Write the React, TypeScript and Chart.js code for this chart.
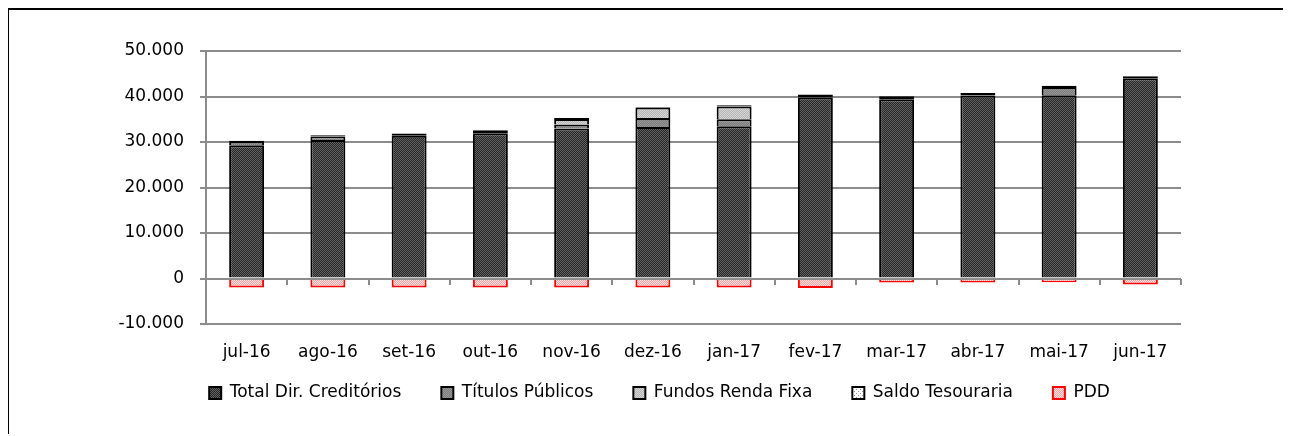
import React, { useEffect, useRef } from "react";
import { Chart, registerables } from "chart.js";

Chart.register(...registerables);

const categories = ["jul-16", "ago-16", "set-16", "out-16", "nov-16", "dez-16", "jan-17", "fev-17", "mar-17", "abr-17", "mai-17", "jun-17"];
const totalDirCreditorios = [29300, 30450, 31400, 31920, 32950, 33300, 33460, 39760, 39390, 40200, 40270, 44000];
const titulosPublicos = [700, 750, null, null, 880, 1980, 1540, null, null, null, 1820, null];
const fundosRendaFixa = [null, null, null, null, 1230, 2280, 2790, null, null, null, null, null];
const saldoTesouraria = [250, 300, 450, 650, 220, 150, 290, 660, 660, 570, 300, 440];
const pdd = [-2000, -2000, -2000, -2000, -2000, -2000, -2000, -2100, -900, -900, -800, -1300];
const yMin = -10000;
const yMax = 50000;
const yStep = 10000;

const FONT = { family: "'DejaVu Sans', sans-serif", size: 17 };
const GRID = "#8c8c8c";
const LEGEND_PAD = 40;

function makePattern(cells: string[][]) {
  const c = document.createElement("canvas");
  c.width = cells[0].length;
  c.height = cells.length;
  const ctx = c.getContext("2d")!;
  cells.forEach((row, y) =>
    row.forEach((col, x) => {
      ctx.fillStyle = col;
      ctx.fillRect(x, y, 1, 1);
    })
  );
  return ctx.createPattern(c, "repeat")!;
}

function fmt(v: number) {
  if (v === 0) return "0";
  const s = Math.abs(v).toString().replace(/\B(?=(\d{3})+(?!\d))/g, ".");
  return (v < 0 ? "-" : "") + s;
}

const zeroAxisPlugin = {
  id: "zeroAxis",
  beforeDraw(chart: any) {
    const lg = chart.legend;
    if (lg) {
      const h = lg.height;
      lg.top = 334.5;
      lg.bottom = 334.5 + h;
      lg.left = 129;
      lg.right = 1172;
      lg.width = lg.right - lg.left;
      if (lg.adjustHitBoxes) lg.adjustHitBoxes();
    }
  },
  afterDatasetsDraw(chart: any) {
    const { ctx, chartArea, scales } = chart;
    const y0 = Math.round(scales.y.getPixelForValue(0));
    const xs = scales.x;
    ctx.save();
    ctx.strokeStyle = GRID;
    ctx.lineWidth = 2;
    ctx.beginPath();
    ctx.moveTo(chartArea.left, y0);
    ctx.lineTo(chartArea.right, y0);
    for (let i = 1; i <= categories.length; i++) {
      const bx = Math.round(xs.getPixelForValue(i - 0.5));
      ctx.moveTo(bx, y0);
      ctx.lineTo(bx, y0 + 6);
    }
    ctx.stroke();
    ctx.restore();
  },
};

export default function App() {
  const ref = useRef<HTMLCanvasElement>(null);
  useEffect(() => {
    document.documentElement.style.overflow = "hidden";
    document.body.style.overflow = "hidden";
    const totalPat = makePattern([
      ["#262626", "#626262"],
      ["#626262", "#262626"],
    ]);
    const titPat = makePattern([
      ["#7c7c7c", "#969696"],
      ["#969696", "#7c7c7c"],
    ]);
    const fundPat = makePattern([
      ["#b4b4b4", "#d6d6d6"],
      ["#d6d6d6", "#b4b4b4"],
    ]);
    const saldoPat = makePattern([
      ["#ffffff", "#ffffff", "#ffffff", "#ffffff"],
      ["#ffffff", "#8a8a8a", "#ffffff", "#ffffff"],
      ["#ffffff", "#ffffff", "#ffffff", "#ffffff"],
      ["#ffffff", "#ffffff", "#ffffff", "#8a8a8a"],
    ]);
    const pddPat = makePattern([
      ["#ff9c9c", "#ffe6e6"],
      ["#ffe6e6", "#ff9c9c"],
    ]);
    const common = { borderWidth: 2, barPercentage: 0.43, categoryPercentage: 1 };
    const chart = new Chart(ref.current!, {
      type: "bar",
      data: {
        labels: categories,
        datasets: [
          { label: "Total Dir. Creditórios", data: totalDirCreditorios, backgroundColor: totalPat, borderColor: "#000", ...common },
          { label: "Títulos Públicos", data: titulosPublicos as any, backgroundColor: titPat, borderColor: "#000", ...common },
          { label: "Fundos Renda Fixa", data: fundosRendaFixa as any, backgroundColor: fundPat, borderColor: "#000", ...common },
          { label: "Saldo Tesouraria", data: saldoTesouraria, backgroundColor: saldoPat, borderColor: "#000", borderSkipped: false, ...common },
          { label: "PDD", data: pdd, backgroundColor: pddPat, borderColor: "#ff0000", ...common },
        ],
      },
      options: {
        responsive: false,
        animation: false,
        devicePixelRatio: 1,
        layout: { padding: { left: 97, right: 109, top: 41, bottom: 0 } },
        plugins: {
          tooltip: { enabled: false },
          legend: {
            position: "bottom",
            labels: { boxWidth: 12, boxHeight: 12, padding: LEGEND_PAD, color: "#000", font: FONT },
          },
        },
        scales: {
          x: {
            stacked: true,
            grid: { display: false, drawTicks: false },
            border: { display: false },
            ticks: { padding: 18, color: "#000", font: FONT, maxRotation: 0, autoSkip: false },
            afterFit: (s: any) => {
              s.height = 40;
            },
          },
          y: {
            stacked: true,
            min: yMin,
            max: yMax,
            ticks: { stepSize: yStep, padding: 16, color: "#000", font: FONT, callback: (v: any) => fmt(Number(v)) },
            grid: { color: GRID, lineWidth: 2, tickLength: 6, tickColor: GRID, drawTicks: true },
            border: { color: GRID, width: 2 },
            afterFit: (s: any) => {
              s.width = 100;
            },
          },
        },
      },
      plugins: [zeroAxisPlugin],
    });
    return () => chart.destroy();
  }, []);

  return (
    <div
      style={{
        width: 1281,
        height: 424,
        borderTop: "2px solid #000",
        borderLeft: "2px solid #000",
        marginLeft: -1,
        position: "relative",
      }}
    >
      <canvas ref={ref} width={1281} height={421} style={{ display: "block", width: 1281, height: 421 }} />
    </div>
  );
}
